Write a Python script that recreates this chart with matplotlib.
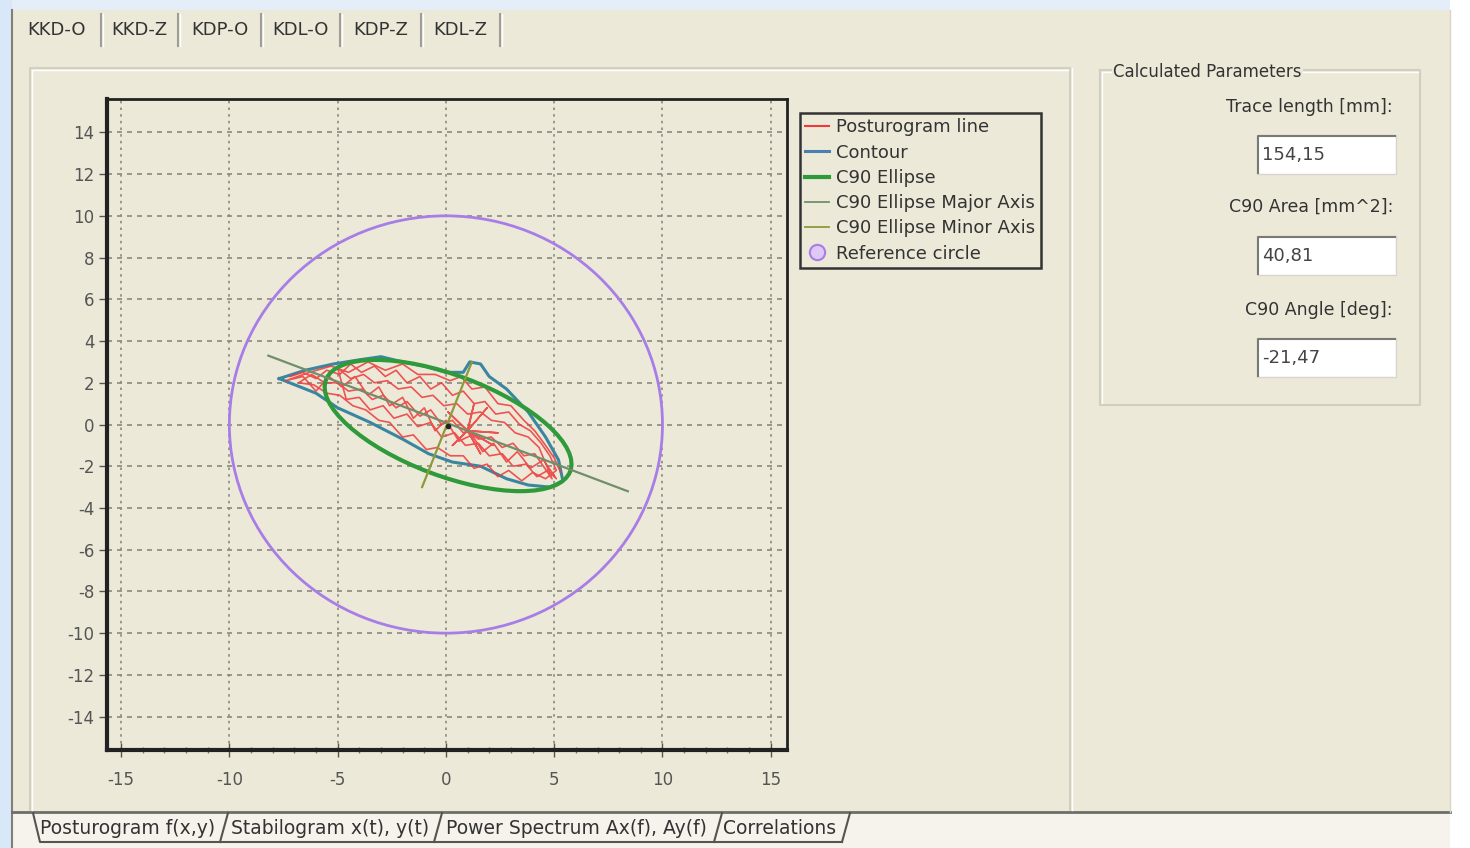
import matplotlib
matplotlib.use("Agg")
import matplotlib.pyplot as plt
from matplotlib.patches import Ellipse, Circle, Rectangle
from matplotlib.lines import Line2D
from matplotlib.ticker import MultipleLocator

plt.rcParams['font.family'] = ['DejaVu Sans']
plt.rcParams['axes.unicode_minus'] = False

# --- data ---
top_tabs = ['KKD-O', 'KKD-Z', 'KDP-O', 'KDL-O', 'KDP-Z', 'KDL-Z']
bottom_tabs = ['Posturogram f(x,y)', 'Stabilogram x(t), y(t)',
               'Power Spectrum Ax(f), Ay(f)', 'Correlations']
param_labels = ['Trace length [mm]:', 'C90 Area [mm^2]:', 'C90 Angle [deg]:']
param_values = ['154,15', '40,81', '-21,47']
legend_labels = ['Posturogram line', 'Contour', 'C90 Ellipse',
                 'C90 Ellipse Major Axis', 'C90 Ellipse Minor Axis',
                 'Reference circle']

# posturogram trace (centre of pressure, mm)
trace_x = [-7.2, -6.6, -6.0, -5.5, -4.9, -4.4, -3.9, -3.3, -2.8, -2.3, -1.8, -1.2, -0.7,
           -0.2, 0.3, 0.8, 1.3, 1.8, 2.3, 2.9, 3.4, 3.9, 4.4, 4.8, 5.1,
           4.6, 4.0, 3.5, 2.9, 2.4, 1.9, 1.3, 0.8, 0.2, -0.4, -0.9, -1.5, -2.0, -2.6,
           -3.1, -3.7, -4.3, -4.9, -5.5, -6.1, -6.8,
           -6.2, -5.6, -5.0, -4.5, -3.9, -3.4, -2.9, -2.3, -1.8, -1.2, -0.7, -0.2, 0.3,
           0.8, 1.0,
           1.9, 1.0, 2.4, 1.0, 1.6, 1.0, 0.3, 1.0, 0.1, 1.0, 1.3, 1.0, 2.2, 1.0,
           1.5, 2.1, 2.6, 3.1, 3.6, 4.1, 4.5, 4.9,
           4.3, 3.8, 3.2, 2.7, 2.1, 1.6, 1.0, 0.5, -0.1, -0.6, -1.1, -1.6, -2.2, -2.7,
           -3.3, -3.8, -4.4, -5.0,
           -4.6, -4.0, -3.5, -2.9, -2.4, -1.8, -1.3, -0.7, -0.2, 0.4, 0.9, 1.5, 2.0,
           2.6, 3.1, 3.7, 4.2, 4.7, 5.1,
           4.5, 3.9, 3.3, 2.8, 2.2, 1.7, 1.2, 0.6, 0.0, -0.5, -1.0, -1.5, -2.0, -2.6,
           -3.1, -3.6, -4.2, -4.8, -5.4, -6.0, -6.6, -7.4,
           -6.3, -5.3, -4.5, -3.6, -2.8, -2.0, -1.3, -0.5, 0.2, 0.7, 1.2, 1.8, 2.4,
           3.0, 3.6, 4.1, 4.6, 5.0, 5.3]
trace_y = [2.3, 2.5, 2.2, 2.6, 2.4, 2.9, 2.5, 2.8, 2.3, 2.6, 2.0, 2.3, 1.7,
           2.0, 1.4, 1.6, 1.0, 1.1, 0.5, 0.6, 0.0, -0.3, -0.9, -1.5, -2.2,
           -2.6, -2.3, -2.7, -2.2, -2.5, -1.9, -2.1, -1.5, -1.5, -1.1, -1.2, -0.5, -0.6, 0.1,
           0.2, 0.7, 0.9, 1.4, 1.5, 1.9, 2.0,
           2.4, 2.0, 2.0, 1.6, 1.7, 1.2, 1.4, 0.8, 1.1, 0.4, 0.7, 0.0, 0.2,
           -0.4, -0.3,
           0.8, -0.3, -0.4, -0.3, -1.4, -0.3, -1.0, -0.3, 0.6, -0.3, 1.0, -0.3, -1.0, -0.3,
           -0.7, -0.6, -1.1, -0.9, -1.5, -1.4, -2.0, -2.6,
           -1.1, -0.6, -0.4, 0.1, 0.2, 0.6, 0.5, 1.0, 0.9, 1.4, 1.3, 1.8, 1.7, 2.1,
           2.0, 2.4, 2.2, 2.7,
           1.2, 1.3, 0.7, 0.9, 0.3, 0.5, -0.1, 0.1, -0.6, -0.4, -1.0, -0.9, -1.5,
           -1.4, -2.0, -1.9, -2.5, -2.2, -2.6,
           -1.7, -2.1, -1.3, -1.8, -0.9, -1.3, -0.5, -0.8, 0.2, -0.3, 0.8, 0.3, 1.3, 0.9,
           1.8, 1.4, 2.3, 1.8, 2.3, 1.6, 2.3, 2.1,
           2.5, 2.8, 2.5, 3.0, 2.6, 2.9, 2.4, 2.4, 2.1, 2.3, 1.7, 1.8, 1.0,
           0.9, 0.2, -0.3, -1.0, -1.6, -2.3]

contour_x = [-7.7, -6.5, -5.2, -4.0, -3.0, -2.0, -1.0, 0.0, 0.8, 1.1, 1.6, 2.0,
             2.8, 3.8, 4.6, 5.2, 5.4, 4.8, 3.8, 2.8, 1.6, 0.3, -0.8, -2.0,
             -3.5, -5.0, -6.0, -7.7]
contour_y = [2.2, 2.6, 2.9, 3.1, 3.25, 3.0, 2.8, 2.5, 2.5, 3.0, 2.9, 2.3,
             1.7, 0.6, -0.6, -1.7, -2.7, -3.0, -2.9, -2.6, -2.0, -1.8, -1.4, -0.7,
             0.1, 0.8, 1.5, 2.2]

ell_center = (0.1, -0.05)
ell_width = 12.1
ell_height = 4.8
ell_angle = -21.47
major_x = [-8.2, 8.4]
major_y = [3.3, -3.2]
minor_x = [-1.1, 1.2]
minor_y = [-3.0, 3.0]
ref_radius = 10

W, H = 1470, 848
BG = '#ECE9D8'
RED = '#ee3a3a'
CONT = '#3a86a0'
GREEN = '#2f9a3a'
MAJ = '#6f8f6a'
MIN = '#8c9a3c'
PURP = '#a87de8'

fig = plt.figure(figsize=(W / 100, H / 100), dpi=100)
fig.patch.set_facecolor('white')

# UI chrome drawn in pixel coordinates
ui = fig.add_axes([0, 0, 1, 1], zorder=0)
ui.set_xlim(0, W)
ui.set_ylim(H, 0)
ui.axis('off')

ui.add_patch(Rectangle((0, 0), 1450, 10, color='#e4eef9', lw=0))
ui.add_patch(Rectangle((0, 0), 12, H, color='#d9e8f8', lw=0))
ui.add_patch(Rectangle((12, 10), 1438, 802, color=BG, lw=0))
ui.add_patch(Rectangle((12, 812), 1438, 36, color='#f5f3ec', lw=0))
ui.plot([12, 12], [10, 848], color='#808078', lw=1.5)
ui.plot([12, 1450], [812, 812], color='#6e6e68', lw=2)
ui.plot([1450, 1450], [10, 812], color='#d8d6c8', lw=1)

# top tabs
sep_x = [101, 178, 261, 340, 421, 500]
tab_cx = [57, 139, 220, 300, 381, 460]
for sx in sep_x:
    ui.plot([sx, sx], [14, 46], color='#a09e94', lw=1.5)
    ui.plot([sx + 2, sx + 2], [14, 46], color='white', lw=1)
for cx, name in zip(tab_cx, top_tabs):
    ui.text(cx, 30, name, ha='center', va='center', fontsize=13, color='#333333')

# inner plot panel
ui.plot([30, 30, 1070, 1070], [810, 68, 68, 810], color='#d2d0c2', lw=1.5)
ui.plot([32, 32, 1068], [810, 70, 70], color='white', lw=1)
ui.plot([1072, 1072], [68, 810], color='white', lw=1)

# group box on the right
ui.plot([1100, 1100, 1420, 1420, 1100], [70, 405, 405, 70, 70], color='#d0cebf', lw=1.5)
ui.plot([1102, 1102, 1418], [403, 72, 72], color='white', lw=1)
ui.text(1113, 72, 'Calculated Parameters', ha='left', va='center', fontsize=12,
        color='#333333', bbox=dict(facecolor=BG, edgecolor='none', pad=1))
label_y = [107, 207, 310]
box_y = [135, 236, 338]
for ly, by, lab, val in zip(label_y, box_y, param_labels, param_values):
    ui.text(1393, ly, lab, ha='right', va='center', fontsize=12.5, color='#333333')
    ui.add_patch(Rectangle((1257, by), 139, 39, facecolor='white', edgecolor='#d8d6cc', lw=1))
    ui.plot([1258, 1258, 1395], [by + 38, by + 1, by + 1], color='#7a7a74', lw=1.5)
    ui.text(1262, by + 20, val, ha='left', va='center', fontsize=13, color='#444444')

# bottom tabs
tab_sep = [220, 434, 714, 842]
tab_text_x = [128, 330, 576, 780]
ui.plot([33, 40, tab_sep[-1]], [813, 842, 842], color='#555550', lw=1.5)
for sx in tab_sep:
    ui.plot([sx, sx + 8], [842, 813], color='#555550', lw=1.5)
for tx, name in zip(tab_text_x, bottom_tabs):
    ui.text(tx, 828, name, ha='center', va='center', fontsize=13.5, color='#333333')

# data axes
ax = fig.add_axes([107 / W, 1 - 750 / H, 680 / W, 651 / H], zorder=1)
ax.set_facecolor(BG)
ax.set_xlim(-15.65, 15.75)
ax.set_ylim(-15.6, 15.6)
ax.xaxis.set_major_locator(MultipleLocator(5))
ax.xaxis.set_minor_locator(MultipleLocator(1))
ax.set_yticks(range(-14, 15, 2))
ax.tick_params(axis='x', which='major', direction='inout', length=10, width=1,
               color='#555555', labelsize=12, labelcolor='#555555', pad=10)
ax.tick_params(axis='x', which='minor', direction='inout', length=5, width=1, color='#777777')
ax.tick_params(axis='y', which='major', direction='out', length=6, width=1,
               color='#555555', labelsize=12, labelcolor='#555555', pad=3)
ax.grid(True, axis='x', which='major', linestyle=(0, (1.5, 2.5)), color='#8a8a80', lw=1.2)
ax.grid(True, axis='y', which='major', linestyle=(0, (3, 3)), color='#8a8a80', lw=1.2)
for side in ['left', 'bottom']:
    ax.spines[side].set_linewidth(3)
    ax.spines[side].set_color('#222222')
for side in ['top', 'right']:
    ax.spines[side].set_linewidth(2)
    ax.spines[side].set_color('#222222')

ax.add_patch(Circle((0, 0), ref_radius, fill=False, edgecolor=PURP, lw=2, zorder=3))
ax.plot(contour_x, contour_y, color=CONT, lw=2.2, zorder=4)
ax.plot(trace_x, trace_y, color=RED, lw=1.2, alpha=0.85, zorder=5)
ax.add_patch(Ellipse(ell_center, ell_width, ell_height, angle=ell_angle, fill=False,
                     edgecolor=GREEN, lw=3, zorder=6))
ax.plot(major_x, major_y, color=MAJ, lw=1.6, zorder=7)
ax.plot(minor_x, minor_y, color=MIN, lw=1.6, zorder=7)
ax.plot([ell_center[0]], [ell_center[1]], marker='o', ms=3, color='#222222', zorder=8)

handles = [Line2D([], [], color=RED, lw=1.5),
           Line2D([], [], color='#4a7fb0', lw=2.2),
           Line2D([], [], color=GREEN, lw=3),
           Line2D([], [], color=MAJ, lw=1.3),
           Line2D([], [], color=MIN, lw=1.3),
           Line2D([], [], ls='none', marker='o', ms=11, markerfacecolor='#ddc8f7',
                  markeredgecolor=PURP, markeredgewidth=1.5)]
leg = ax.legend(handles, legend_labels, loc='upper left',
                bbox_to_anchor=(800 / W, 1 - 113 / H), bbox_transform=fig.transFigure,
                borderaxespad=0, fancybox=False, framealpha=1, facecolor=BG,
                edgecolor='#333333', fontsize=13, handlelength=1.3,
                handletextpad=0.4, labelspacing=0.4, borderpad=0.3)
leg.get_frame().set_linewidth(1.8)
for t in leg.get_texts():
    t.set_color('#333333')

fig.savefig('out.png', dpi=100, facecolor=fig.get_facecolor())
